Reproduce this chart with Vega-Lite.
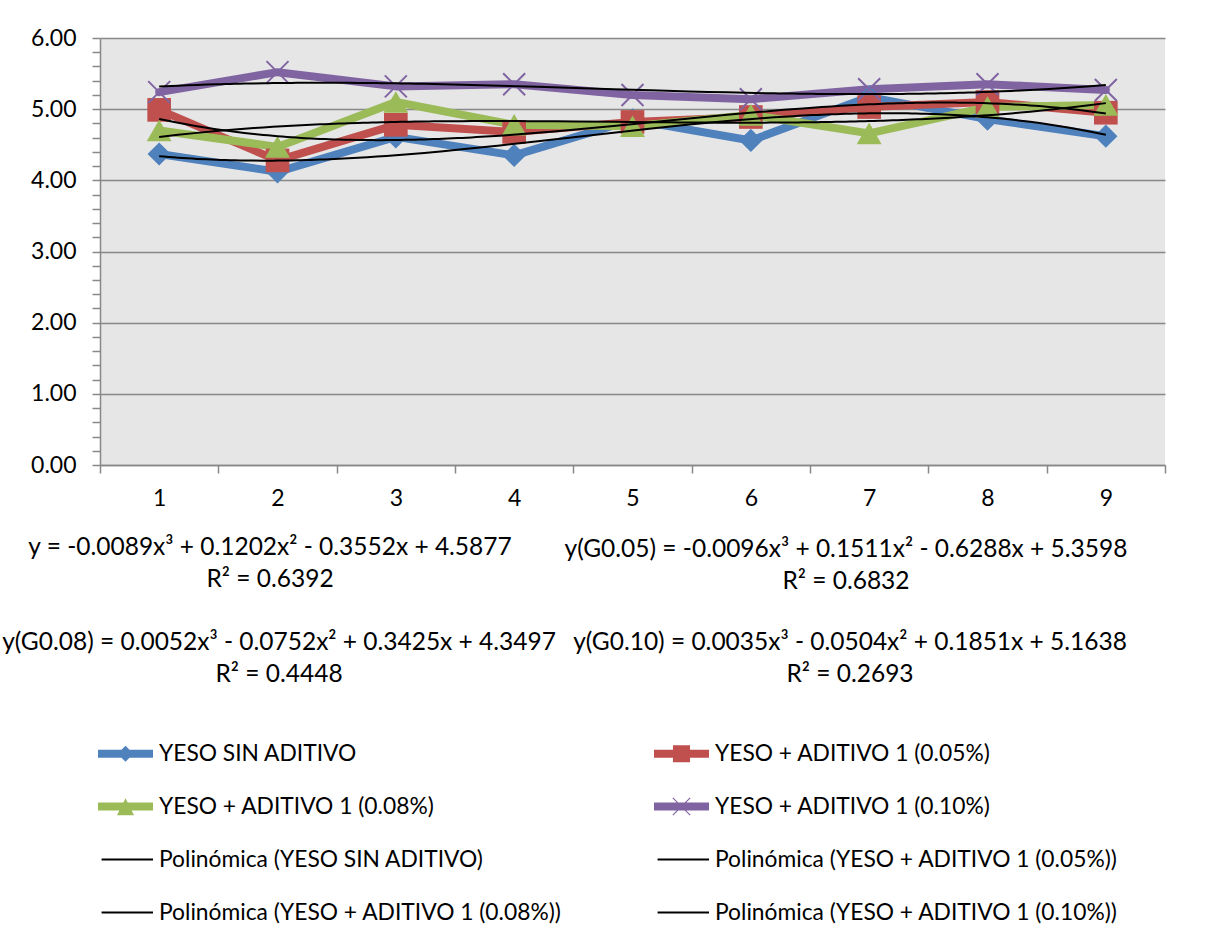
{
  "$schema": "https://vega.github.io/schema/vega-lite/v6.json",
  "width": 1065,
  "height": 427,
  "autosize": {"type": "none"},
  "padding": {"left": 100, "top": 38, "right": 67, "bottom": 466},
  "background": "white",
  "config": {
    "font": "Lato",
    "view": {"fill": "#E6E6E6", "stroke": null},
    "axis": {
      "labelFont": "Lato",
      "labelFontSize": 23,
      "labelColor": "black",
      "domainColor": "#888888",
      "domainWidth": 1.5,
      "tickColor": "#888888",
      "tickWidth": 1.5,
      "tickSize": 8,
      "tickCount": 100,
      "title": null
    },
    "legend": {
      "orient": "none",
      "direction": "horizontal",
      "legendX": -2,
      "legendY": 688,
      "columns": 2,
      "padding": 0,
      "symbolSize": 3025,
      "symbolStrokeWidth": 0,
      "symbolOpacity": 1,
      "labelFont": "Lato",
      "labelFontSize": 22.8,
      "labelColor": "black",
      "labelLimit": 2000,
      "labelOffset": 6,
      "rowPadding": 13,
      "columnPadding": 92
    }
  },
  "datasets": {
    "pts": [
      {"x": 1, "y": 4.37, "series": "YESO SIN ADITIVO", "trend": "Polinómica (YESO SIN ADITIVO)"},
      {"x": 2, "y": 4.12, "series": "YESO SIN ADITIVO", "trend": "Polinómica (YESO SIN ADITIVO)"},
      {"x": 3, "y": 4.61, "series": "YESO SIN ADITIVO", "trend": "Polinómica (YESO SIN ADITIVO)"},
      {"x": 4, "y": 4.35, "series": "YESO SIN ADITIVO", "trend": "Polinómica (YESO SIN ADITIVO)"},
      {"x": 5, "y": 4.85, "series": "YESO SIN ADITIVO", "trend": "Polinómica (YESO SIN ADITIVO)"},
      {"x": 6, "y": 4.56, "series": "YESO SIN ADITIVO", "trend": "Polinómica (YESO SIN ADITIVO)"},
      {"x": 7, "y": 5.17, "series": "YESO SIN ADITIVO", "trend": "Polinómica (YESO SIN ADITIVO)"},
      {"x": 8, "y": 4.86, "series": "YESO SIN ADITIVO", "trend": "Polinómica (YESO SIN ADITIVO)"},
      {"x": 9, "y": 4.62, "series": "YESO SIN ADITIVO", "trend": "Polinómica (YESO SIN ADITIVO)"},
      {"x": 1, "y": 4.99, "series": "YESO + ADITIVO 1 (0.05%)", "trend": "Polinómica (YESO + ADITIVO 1 (0.05%))"},
      {"x": 2, "y": 4.28, "series": "YESO + ADITIVO 1 (0.05%)", "trend": "Polinómica (YESO + ADITIVO 1 (0.05%))"},
      {"x": 3, "y": 4.78, "series": "YESO + ADITIVO 1 (0.05%)", "trend": "Polinómica (YESO + ADITIVO 1 (0.05%))"},
      {"x": 4, "y": 4.68, "series": "YESO + ADITIVO 1 (0.05%)", "trend": "Polinómica (YESO + ADITIVO 1 (0.05%))"},
      {"x": 5, "y": 4.82, "series": "YESO + ADITIVO 1 (0.05%)", "trend": "Polinómica (YESO + ADITIVO 1 (0.05%))"},
      {"x": 6, "y": 4.89, "series": "YESO + ADITIVO 1 (0.05%)", "trend": "Polinómica (YESO + ADITIVO 1 (0.05%))"},
      {"x": 7, "y": 5.03, "series": "YESO + ADITIVO 1 (0.05%)", "trend": "Polinómica (YESO + ADITIVO 1 (0.05%))"},
      {"x": 8, "y": 5.10, "series": "YESO + ADITIVO 1 (0.05%)", "trend": "Polinómica (YESO + ADITIVO 1 (0.05%))"},
      {"x": 9, "y": 4.95, "series": "YESO + ADITIVO 1 (0.05%)", "trend": "Polinómica (YESO + ADITIVO 1 (0.05%))"},
      {"x": 1, "y": 4.70, "series": "YESO + ADITIVO 1 (0.08%)", "trend": "Polinómica (YESO + ADITIVO 1 (0.08%))"},
      {"x": 2, "y": 4.47, "series": "YESO + ADITIVO 1 (0.08%)", "trend": "Polinómica (YESO + ADITIVO 1 (0.08%))"},
      {"x": 3, "y": 5.10, "series": "YESO + ADITIVO 1 (0.08%)", "trend": "Polinómica (YESO + ADITIVO 1 (0.08%))"},
      {"x": 4, "y": 4.78, "series": "YESO + ADITIVO 1 (0.08%)", "trend": "Polinómica (YESO + ADITIVO 1 (0.08%))"},
      {"x": 5, "y": 4.76, "series": "YESO + ADITIVO 1 (0.08%)", "trend": "Polinómica (YESO + ADITIVO 1 (0.08%))"},
      {"x": 6, "y": 4.92, "series": "YESO + ADITIVO 1 (0.08%)", "trend": "Polinómica (YESO + ADITIVO 1 (0.08%))"},
      {"x": 7, "y": 4.66, "series": "YESO + ADITIVO 1 (0.08%)", "trend": "Polinómica (YESO + ADITIVO 1 (0.08%))"},
      {"x": 8, "y": 5.03, "series": "YESO + ADITIVO 1 (0.08%)", "trend": "Polinómica (YESO + ADITIVO 1 (0.08%))"},
      {"x": 9, "y": 5.06, "series": "YESO + ADITIVO 1 (0.08%)", "trend": "Polinómica (YESO + ADITIVO 1 (0.08%))"},
      {"x": 1, "y": 5.24, "series": "YESO + ADITIVO 1 (0.10%)", "trend": "Polinómica (YESO + ADITIVO 1 (0.10%))"},
      {"x": 2, "y": 5.52, "series": "YESO + ADITIVO 1 (0.10%)", "trend": "Polinómica (YESO + ADITIVO 1 (0.10%))"},
      {"x": 3, "y": 5.32, "series": "YESO + ADITIVO 1 (0.10%)", "trend": "Polinómica (YESO + ADITIVO 1 (0.10%))"},
      {"x": 4, "y": 5.35, "series": "YESO + ADITIVO 1 (0.10%)", "trend": "Polinómica (YESO + ADITIVO 1 (0.10%))"},
      {"x": 5, "y": 5.20, "series": "YESO + ADITIVO 1 (0.10%)", "trend": "Polinómica (YESO + ADITIVO 1 (0.10%))"},
      {"x": 6, "y": 5.14, "series": "YESO + ADITIVO 1 (0.10%)", "trend": "Polinómica (YESO + ADITIVO 1 (0.10%))"},
      {"x": 7, "y": 5.28, "series": "YESO + ADITIVO 1 (0.10%)", "trend": "Polinómica (YESO + ADITIVO 1 (0.10%))"},
      {"x": 8, "y": 5.35, "series": "YESO + ADITIVO 1 (0.10%)", "trend": "Polinómica (YESO + ADITIVO 1 (0.10%))"},
      {"x": 9, "y": 5.27, "series": "YESO + ADITIVO 1 (0.10%)", "trend": "Polinómica (YESO + ADITIVO 1 (0.10%))"}
    ],
    "eqs": [
      {"id": "a", "text": "y = -0.0089x³ + 0.1202x² - 0.3552x + 4.5877\nR² = 0.6392"},
      {"id": "b", "text": "y(G0.05) = -0.0096x³ + 0.1511x² - 0.6288x + 5.3598\nR² = 0.6832"},
      {"id": "c", "text": "y(G0.08) = 0.0052x³ - 0.0752x² + 0.3425x + 4.3497\nR² = 0.4448"},
      {"id": "d", "text": "y(G0.10) = 0.0035x³ - 0.0504x² + 0.1851x + 5.1638\nR² = 0.2693"}
    ]
  },
  "data": {"name": "pts"},
  "layer": [
    {
      "mark": {"type": "line", "strokeWidth": 8, "strokeJoin": "round", "strokeCap": "round"},
      "encoding": {
        "x": {
          "field": "x", "type": "quantitative",
          "scale": {"domain": [0.5, 9.5], "nice": false, "zero": false},
          "axis": {
            "values": [0.5, 1.5, 2.5, 3.5, 4.5, 5.5, 6.5, 7.5, 8.5, 9.5],
            "labelExpr": "datum.value < 9 ? format(datum.value + 0.5, 'd') : ''",
            "labelOffset": 59.2,
            "labelPadding": 14,
            "labelFlush": false,
            "labelOverlap": false,
            "labelBound": false,
            "grid": false
          }
        },
        "y": {
          "field": "y", "type": "quantitative",
          "scale": {"domain": [0, 6], "nice": false},
          "axis": {
            "values": [0, 0.2, 0.4, 0.6, 0.8, 1, 1.2, 1.4, 1.6, 1.8, 2, 2.2, 2.4, 2.6, 2.8, 3, 3.2, 3.4, 3.6, 3.8, 4, 4.2, 4.4, 4.6, 4.8, 5, 5.2, 5.4, 5.6, 5.8, 6],
            "labelExpr": "datum.value % 1 === 0 ? format(datum.value, '.2f') : ''",
            "labelPadding": 16,
            "labelOverlap": false,
            "labelBound": false,
            "labelFlush": false,
            "grid": true,
            "gridColor": "#888888",
            "gridWidth": 1.5,
            "gridOpacity": {"condition": {"test": "datum.value % 1 === 0", "value": 1}, "value": 0}
          }
        },
        "color": {
          "field": "series", "type": "nominal",
          "scale": {
            "domain": ["YESO SIN ADITIVO", "YESO + ADITIVO 1 (0.05%)", "YESO + ADITIVO 1 (0.08%)", "YESO + ADITIVO 1 (0.10%)", "Polinómica (YESO SIN ADITIVO)", "Polinómica (YESO + ADITIVO 1 (0.05%))", "Polinómica (YESO + ADITIVO 1 (0.08%))", "Polinómica (YESO + ADITIVO 1 (0.10%))"],
            "range": ["#4F81BD", "#C0504D", "#9BBB59", "#8064A2", "#000000", "#000000", "#000000", "#000000"]
          },
          "legend": {"title": null}
        }
      }
    },
    {
      "transform": [{"filter": "datum.series === 'YESO SIN ADITIVO'"}],
      "mark": {"type": "point", "shape": "diamond", "filled": true, "size": 540, "opacity": 1, "color": "#4F81BD"},
      "encoding": {"x": {"field": "x", "type": "quantitative"}, "y": {"field": "y", "type": "quantitative"}}
    },
    {
      "transform": [{"filter": "datum.series === 'YESO + ADITIVO 1 (0.05%)'"}],
      "mark": {"type": "point", "shape": "square", "filled": true, "size": 560, "opacity": 1, "color": "#C0504D"},
      "encoding": {"x": {"field": "x", "type": "quantitative"}, "y": {"field": "y", "type": "quantitative"}}
    },
    {
      "transform": [{"filter": "datum.series === 'YESO + ADITIVO 1 (0.08%)'"}],
      "mark": {"type": "point", "shape": "triangle-up", "filled": true, "size": 620, "opacity": 1, "color": "#9BBB59"},
      "encoding": {"x": {"field": "x", "type": "quantitative"}, "y": {"field": "y", "type": "quantitative"}}
    },
    {
      "transform": [{"filter": "datum.series === 'YESO + ADITIVO 1 (0.10%)'"}],
      "mark": {"type": "point", "shape": "M-1,-1L1,1M-1,1L1,-1", "filled": false, "size": 484, "stroke": "#8064A2", "strokeWidth": 2, "opacity": 1},
      "encoding": {"x": {"field": "x", "type": "quantitative"}, "y": {"field": "y", "type": "quantitative"}}
    },
    {
      "transform": [{"regression": "y", "on": "x", "groupby": ["trend"], "method": "poly", "order": 3}],
      "mark": {"type": "line", "strokeWidth": 2},
      "encoding": {
        "x": {"field": "x", "type": "quantitative"},
        "y": {"field": "y", "type": "quantitative"},
        "color": {"field": "trend", "type": "nominal", "legend": {"title": null}}
      }
    },
    {
      "transform": [{"filter": "false"}],
      "mark": {"type": "point", "filled": true},
      "encoding": {
        "x": {"field": "x", "type": "quantitative"},
        "y": {"field": "y", "type": "quantitative"},
        "color": {"field": "series", "type": "nominal", "legend": {"title": null}},
        "shape": {
          "field": "series", "type": "nominal",
          "scale": {
            "domain": ["YESO SIN ADITIVO", "YESO + ADITIVO 1 (0.05%)", "YESO + ADITIVO 1 (0.08%)", "YESO + ADITIVO 1 (0.10%)", "Polinómica (YESO SIN ADITIVO)", "Polinómica (YESO + ADITIVO 1 (0.05%))", "Polinómica (YESO + ADITIVO 1 (0.08%))", "Polinómica (YESO + ADITIVO 1 (0.10%))"],
            "range": [
              "M-1,-0.145L1,-0.145L1,0.145L-1,0.145ZM0,-0.29L0.29,0L0,0.29L-0.29,0Z",
              "M-1,-0.145L1,-0.145L1,0.145L-1,0.145ZM-0.31,-0.31L0.31,-0.31L0.31,0.31L-0.31,0.31Z",
              "M-1,-0.145L1,-0.145L1,0.145L-1,0.145ZM0,-0.3L0.31,0.32L-0.31,0.32Z",
              "M-1,-0.145L1,-0.145L1,0.145L-1,0.145ZM-0.33,-0.3L-0.3,-0.33L0.33,0.3L0.3,0.33ZM0.3,-0.33L0.33,-0.3L-0.3,0.33L-0.33,0.3Z",
              "M-0.87,-0.036L1,-0.036L1,0.036L-0.87,0.036Z",
              "M-0.87,-0.036L1,-0.036L1,0.036L-0.87,0.036Z",
              "M-0.87,-0.036L1,-0.036L1,0.036L-0.87,0.036Z",
              "M-0.87,-0.036L1,-0.036L1,0.036L-0.87,0.036Z"
            ]
          },
          "legend": {"title": null}
        }
      }
    },
    {
      "data": {"name": "eqs"},
      "transform": [{"filter": "datum.id === 'a'"}],
      "mark": {"type": "text", "font": "Lato", "fontSize": 24.5, "align": "center", "baseline": "middle", "lineBreak": "\n", "lineHeight": 32, "color": "black"},
      "encoding": {"x": {"datum": 1.937}, "y": {"datum": -1.166}, "text": {"field": "text"}}
    },
    {
      "data": {"name": "eqs"},
      "transform": [{"filter": "datum.id === 'b'"}],
      "mark": {"type": "text", "font": "Lato", "fontSize": 24.5, "align": "center", "baseline": "middle", "lineBreak": "\n", "lineHeight": 32, "color": "black"},
      "encoding": {"x": {"datum": 6.804}, "y": {"datum": -1.19}, "text": {"field": "text"}}
    },
    {
      "data": {"name": "eqs"},
      "transform": [{"filter": "datum.id === 'c'"}],
      "mark": {"type": "text", "font": "Lato", "fontSize": 24.5, "align": "center", "baseline": "middle", "lineBreak": "\n", "lineHeight": 32, "color": "black"},
      "encoding": {"x": {"datum": 2.013}, "y": {"datum": -2.50}, "text": {"field": "text"}}
    },
    {
      "data": {"name": "eqs"},
      "transform": [{"filter": "datum.id === 'd'"}],
      "mark": {"type": "text", "font": "Lato", "fontSize": 24.5, "align": "center", "baseline": "middle", "lineBreak": "\n", "lineHeight": 32, "color": "black"},
      "encoding": {"x": {"datum": 6.838}, "y": {"datum": -2.50}, "text": {"field": "text"}}
    }
  ]
}
